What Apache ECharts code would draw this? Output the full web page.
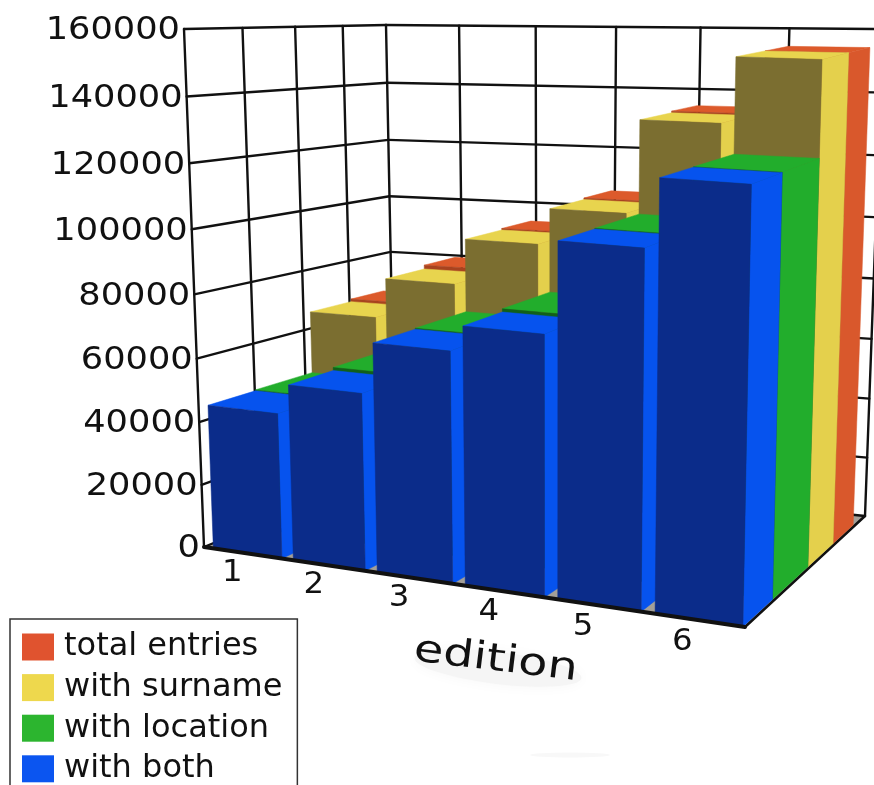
<!DOCTYPE html>
<html><head><meta charset="utf-8">
<style>html,body{margin:0;padding:0;background:#fff}#c{width:874px;height:785px}</style>
<script src="https://cdn.jsdelivr.net/npm/echarts@6/dist/echarts.min.js"></script>
</head><body><div id="c"></div>
<script>
const editions = ['1','2','3','4','5','6'];
const yTicks = [0,20000,40000,60000,80000,100000,120000,140000,160000];
const totalEntries = [67500,81000,95000,106500,135500,155000];
const withSurname  = [66600,79700,94500,106000,135000,155000];
const withLocation = [46000,56000,71000,79500,106000,125900];
const withBoth     = [45700,55000,70700,78500,105800,125800];
const axisName = 'edition';

// scene: corners of the floor and ceiling of the 3D box, as seen by the camera
const FLOOR = [[204,547],[745,627],[865,516],[395,468]];
const ROOF  = [[184,29],[756,58],[883,29],[386,25]];
const ROWS = [
  {name:'total entries', d:[0.71,0.90], top:'#dc5a2b', side:'#d9582c', front:'#a8431f', key:'#e0532f'},
  {name:'with surname',  d:[0.49,0.71], top:'#e8d44e', side:'#e4d04c', front:'#7b6e30', key:'#eed84d'},
  {name:'with location', d:[0.21,0.49], top:'#22ad2c', side:'#22ad2c', front:'#11601a', key:'#2cb52f'},
  {name:'with both',     d:[0.00,0.21], top:'#0653ee', side:'#0653ee', front:'#0b2c8a', key:'#0b55f0'}
];
const BAR_START = 0.12, BAR_END = 0.98;

const warp = (s,k) => s/(s+(1-s)*k);
function bilinear(q,U,V){
  const f=i=>(q[0][i]*(1-U)+q[1][i]*U)*(1-V)+(q[3][i]*(1-U)+q[2][i]*U)*V;
  return [f(0),f(1)];
}
function project(u,v,h){
  const U=warp(u,1.16), V=warp(v,0.818), t=warp(h,1.05);
  const f=bilinear(FLOOR,U,V), r=bilinear(ROOF,U,V);
  return [f[0]+(r[0]-f[0])*t, f[1]+(r[1]-f[1])*t];
}
function poly(points,fill,z2){
  return {type:'polygon',z2:z2||0,shape:{points},style:{fill,stroke:fill,lineWidth:0.5}};
}
function line(a,b,w,z2){
  return {type:'line',z2:z2||0,shape:{x1:a[0],y1:a[1],x2:b[0],y2:b[1]},style:{stroke:'#111',lineWidth:w,lineCap:'round'}};
}
function label(text,p,size,align,sx,rot){
  return {type:'text',x:p[0],y:p[1],scaleX:sx,scaleY:1,rotation:rot||0,
    style:{text:String(text),fill:'#111',font:size+'px "DejaVu Sans"',align,verticalAlign:'middle'}};
}

const makeBar = row => (params,api)=>{
  const cs = params.coordSys;
  const val = api.value(1);
  const c = api.coord([api.value(0),val]);
  const band = api.size([1,0])[0]/cs.width;
  const mid = (c[0]-cs.x)/cs.width;
  const h = (cs.y+cs.height-c[1])/cs.height;
  const u0 = mid+band*(BAR_START-0.5), u1 = mid+band*(BAR_END-0.5);
  const [v0,v1] = row.d;
  const P=(u,v,z)=>project(u,v,z);
  return {type:'group',children:[
    poly([P(u0,v0,h),P(u1,v0,h),P(u1,v1,h),P(u0,v1,h)],row.top),
    poly([P(u1,v0,0),P(u1,v1,0),P(u1,v1,h),P(u1,v0,h)],row.side),
    poly([P(u0,v0,0),P(u1,v0,0),P(u1,v0,h),P(u0,v0,h)],row.front)
  ]};
};

const frameItem = (params,api)=>{
  const cs = params.coordSys;
  const hOf = val => (cs.y+cs.height-api.coord([0,val])[1])/cs.height;
  const ch = [];
  ch.push(poly([project(0,0,0),project(1,0,0),project(1,1,0),project(0,1,0)],'#a39f98'));
  yTicks.forEach(tv=>{
    const h=hOf(tv);
    ch.push(line(project(0,0,h),project(0,1,h),2.4));
    ch.push(line(project(0,1,h),project(1,1,h),2.4));
    const p=project(0,0,h);
    ch.push(label(tv,[p[0]-4,p[1]+2],32,'right',1.1));
  });
  for(let k=1;k<=4;k++) ch.push(line(project(0,k/4,0),project(0,k/4,1),2.4));
  for(let k=1;k<=6;k++) ch.push(line(project(k/6,1,0),project(k/6,1,1),2.4));
  ch.push(line(project(0,0,0),project(0,0,1),2.4));
  ch.push(line(project(1,0,0),project(1,1,0),2.5));
  return {type:'group',children:ch};
};
const frontItem = (params,api)=>{
  const cs = params.coordSys, ch=[];
  ch.push(line(project(0,0,0),project(1,0,0),4));
  editions.forEach((e,i)=>{
    const x=api.coord([i,0])[0];
    const p=project((x-cs.x)/cs.width,0,0);
    ch.push(label(e,[p[0]-11,p[1]+20+i*0.6],30,'center',1.08));
  });
  const m=project(0.53,0,0);
  ch.push(label(axisName,[m[0]+25,m[1]+74],38,'center',1.26,-0.12));
  return {type:'group',children:ch};
};

const seriesValues = [totalEntries,withSurname,withLocation,withBoth];
const series = [{type:'custom',silent:true,z:1,renderItem:frameItem,data:[[0,0]],clip:false,animation:false}];
ROWS.forEach((row,k)=>series.push({
  name:row.name,type:'custom',z:2,renderItem:makeBar(row),clip:false,animation:false,
  itemStyle:{color:row.key},
  encode:{x:0,y:1},
  data:seriesValues[k].map((v,i)=>[i,v])
}));
series.push({type:'custom',silent:true,z:3,renderItem:frontItem,data:[[0,0]],clip:false,animation:false});

const chart = echarts.init(document.getElementById('c'),null,{renderer:'canvas'});
chart.setOption({
  animation:false,backgroundColor:'#fff',
  grid:{left:0,right:0,top:0,bottom:0},
  xAxis:{type:'category',data:editions,show:false},
  yAxis:{type:'value',min:0,max:160000,interval:20000,show:false},
  legend:{
    orient:'vertical',left:10,top:619,height:300,padding:[12,15,12,12],
    backgroundColor:'#fff',borderColor:'#333',borderWidth:1.5,borderRadius:0,
    itemWidth:32,itemHeight:27,itemGap:8.6,icon:'rect',selectedMode:false,
    textStyle:{fontFamily:'"DejaVu Sans"',fontSize:32,color:'#111',padding:[0,0,0,5]},
    data:ROWS.map(r=>r.name)
  },
  graphic:[
    {type:'circle',z:0,shape:{cx:0,cy:0,r:80},x:498,y:668,scaleX:1.05,scaleY:0.2,rotation:-0.12,
     style:{fill:'#f5f5f5',shadowBlur:14,shadowColor:'#f7f7f7'}},
    {type:'circle',z:0,shape:{cx:0,cy:0,r:40},x:570,y:755,scaleX:1,scaleY:0.06,
     style:{fill:'#f8f8f8'}}
  ],
  series
});
</script></body></html>
